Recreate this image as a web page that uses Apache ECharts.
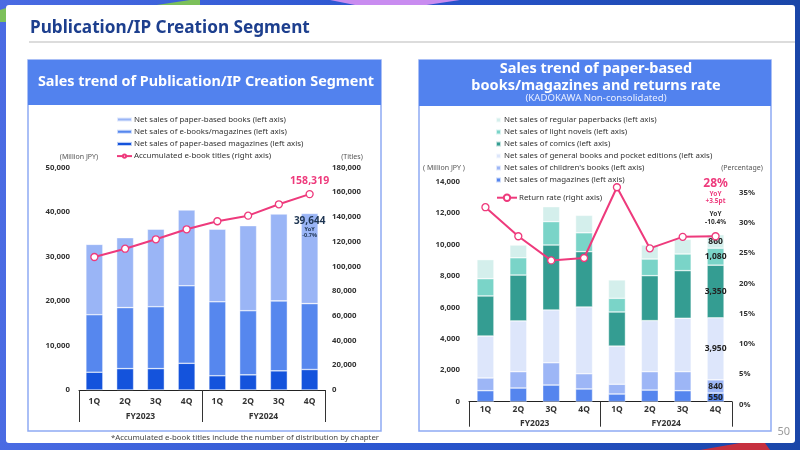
<!DOCTYPE html>
<html><head><meta charset="utf-8">
<script src="https://cdn.jsdelivr.net/npm/echarts@6/dist/echarts.min.js"></script>
<style>html,body{margin:0;padding:0;background:#fff}#c{width:800px;height:450px}</style>
</head><body><div id="c"></div>
<script>
// ---------- data ----------
const quarters = ['1Q','2Q','3Q','4Q','1Q','2Q','3Q','4Q'];
const fiscalYears = ['FY2023','FY2024'];

// Left chart (Million JPY / Titles)
const paperMagazines = [4000, 4800, 4800, 6000, 3200, 3400, 4300, 4600];
const ebooksMagazines = [12900, 13700, 13900, 17400, 16600, 14400, 15700, 14800];
const paperBooks = [15800, 15700, 17400, 17000, 16300, 19100, 19500, 20244];
const ebookTitles = [107500, 114200, 121800, 129900, 136400, 140900, 150100, 158319];

// Right chart (Million JPY / %)
const magazines = [700, 870, 1060, 810, 490, 740, 700, 550];
const childrensBooks = [810, 1040, 1420, 970, 620, 1170, 1210, 840];
const generalBooks = [2670, 3230, 3360, 4250, 2430, 3250, 3400, 3950];
const comics = [2550, 2920, 4130, 3520, 2170, 2860, 3030, 3350];
const lightNovels = [1100, 1100, 1490, 1200, 870, 1060, 1060, 1080];
const regularPaperbacks = [1210, 810, 950, 1110, 1170, 890, 930, 860];
const returnRate = [32.6, 27.8, 23.8, 24.2, 35.9, 25.8, 27.7, 27.8];

const FONT = 'Noto Sans';
const fmt = v => String(v).replace(/\B(?=(\d{3})+(?!\d))/g, ',');
const last = quarters.length - 1;
const rightTotalLast = [magazines, childrensBooks, generalBooks, comics, lightNovels, regularPaperbacks]
  .reduce((s, a) => s + a[last], 0);

const C = {
  pBooks: '#9ab5f6', eBooks: '#5687ee', pMags: '#1453dc', pink: '#ee3a7c',
  mags: '#5585ee', child: '#9db6f6', general: '#dde6fb', comics: '#349d92', light: '#7ad4c8', regular: '#d4efec'
};

function lastLabel(arr, color) {
  return arr.map((v, i) => i === last ? {value: v, label: {show: true, position: 'inside', formatter: p => fmt(p.value),
    color: color || '#222', fontWeight: 'bold', fontSize: 8.5, fontFamily: FONT}} : v);
}

const axisLabelStyle = {color: '#333', fontWeight: 'bold', fontSize: 7.8, fontFamily: FONT};
const barBorder = {borderColor: 'rgba(255,255,255,0.7)', borderWidth: 0.6};
const LEG_FS = 7.9;

const chart = echarts.init(document.getElementById('c'), null, {renderer: 'canvas'});
chart.setOption({
  animation: false,
  textStyle: {fontFamily: FONT},
  graphic: [
    {type: 'rect', z: -20, shape: {x: 0, y: 0, width: 800, height: 450},
     style: {fill: new echarts.graphic.LinearGradient(0, 0, 1, 0, [{offset: 0, color: '#4a6be3'}, {offset: 0.5, color: '#2a55cf'}, {offset: 1, color: '#1a46a8'}])}},
    {type: 'polygon', z: -19, shape: {points: [[150, 6], [190, 0], [200, 0], [200, 6]]}, style: {fill: '#7cc05a'}},
    {type: 'polygon', z: -19, shape: {points: [[0, 10], [6, 8], [6, 22], [0, 22]]}, style: {fill: '#7cc05a'}},
    {type: 'polygon', z: -19, shape: {points: [[330, 0], [460, 0], [420, 6], [360, 6]]}, style: {fill: '#c98cf0'}},
    {type: 'polygon', z: -19, shape: {points: [[700, 450], [740, 443], [765, 443], [770, 450]]}, style: {fill: '#c6303f'}},
    {type: 'rect', z: -18, shape: {x: 6, y: 5, width: 789, height: 438, r: 3}, style: {fill: '#ffffff'}},
    {type: 'text', z: 5, left: 30, top: 19.5, style: {text: 'Publication/IP Creation Segment', fill: '#1d3f8e', font: 'bold 17.2px "Noto Sans"'}},
    {type: 'rect', z: -17, shape: {x: 29, y: 41, width: 766, height: 2}, style: {fill: '#dcdcdc'}},
    // left panel
    {type: 'rect', z: -16, shape: {x: 28, y: 60, width: 353, height: 371}, style: {fill: '#fff', stroke: '#8eabf3', lineWidth: 1.5}},
    {type: 'rect', z: -15, shape: {x: 28, y: 60, width: 353, height: 45}, style: {fill: '#5282ee'}},
    {type: 'text', z: 5, x: 206, y: 82, style: {text: 'Sales trend of Publication/IP Creation Segment', fill: '#fff', font: 'bold 14.4px "Noto Sans"', align: 'center', verticalAlign: 'middle'}},
    // right panel
    {type: 'rect', z: -16, shape: {x: 419, y: 60, width: 352, height: 371}, style: {fill: '#fff', stroke: '#8eabf3', lineWidth: 1.5}},
    {type: 'rect', z: -15, shape: {x: 419, y: 60, width: 352, height: 46}, style: {fill: '#5282ee'}},
    {type: 'text', z: 5, x: 596, y: 69, style: {text: 'Sales trend of paper-based', fill: '#fff', font: 'bold 14.5px "Noto Sans"', align: 'center', verticalAlign: 'middle'}},
    {type: 'text', z: 5, x: 596, y: 86, style: {text: 'books/magazines and returns rate', fill: '#fff', font: 'bold 14.5px "Noto Sans"', align: 'center', verticalAlign: 'middle'}},
    {type: 'text', z: 5, x: 596, y: 98.5, style: {text: '(KADOKAWA Non-consolidated)', fill: '#e8eeff', font: '9.6px "Noto Sans"', align: 'center', verticalAlign: 'middle'}},
    // axis names
    {type: 'text', z: 5, x: 79, y: 157, style: {text: '(Million JPY)', fill: '#555', font: '7px "Noto Sans"', align: 'center', verticalAlign: 'middle'}},
    {type: 'text', z: 5, x: 352, y: 157, style: {text: '(Titles)', fill: '#555', font: '7px "Noto Sans"', align: 'center', verticalAlign: 'middle'}},
    {type: 'text', z: 5, x: 444, y: 168, style: {text: '( Million JPY )', fill: '#555', font: '7px "Noto Sans"', align: 'center', verticalAlign: 'middle'}},
    {type: 'text', z: 5, x: 742, y: 168, style: {text: '(Percentage)', fill: '#555', font: '7px "Noto Sans"', align: 'center', verticalAlign: 'middle'}},
    // footnote & page number
    {type: 'text', z: 5, x: 379, y: 437.5, style: {text: '*Accumulated e-book titles include the number of distribution by chapter', fill: '#444', font: '7.8px "Noto Sans"', align: 'right', verticalAlign: 'middle'}},
    {type: 'text', z: 5, x: 790, y: 432, style: {text: '50', fill: '#9a9a9a', font: '11px "Noto Sans"', align: 'right', verticalAlign: 'middle'}}
  ],
  legend: [
    {left: 111, top: 110.5, orient: 'vertical', itemWidth: 15, itemHeight: 4, itemGap: 4.2,
     textStyle: {fontSize: LEG_FS, color: '#333', fontFamily: FONT, padding: [0, 0, 0, -3]},
     data: [{name: 'Net sales of paper-based books (left axis)', icon: 'rect'},
            {name: 'Net sales of e-books/magazines (left axis)', icon: 'rect'},
            {name: 'Net sales of paper-based magazines (left axis)', icon: 'rect'},
            {name: 'Accumulated e-book titles (right axis)'}]},
    {left: 490, top: 111, orient: 'vertical', itemWidth: 5, itemHeight: 5, itemGap: 4.0,
     textStyle: {fontSize: LEG_FS, color: '#333', fontFamily: FONT, padding: [0, 0, 0, -2]},
     data: [{name: 'Net sales of regular paperbacks (left axis)', icon: 'rect'},
            {name: 'Net sales of light novels (left axis)', icon: 'rect'},
            {name: 'Net sales of comics (left axis)', icon: 'rect'},
            {name: 'Net sales of general books and pocket editions (left axis)', icon: 'rect'},
            {name: "Net sales of children's books (left axis)", icon: 'rect'},
            {name: 'Net sales of magazines (left axis)', icon: 'rect'}]},
    {left: 491, top: 188.5, itemWidth: 20, itemHeight: 8,
     textStyle: {fontSize: LEG_FS, color: '#333', fontFamily: FONT, padding: [0, 0, 0, -3]},
     data: [{name: 'Return rate (right axis)'}]}
  ],
  grid: [
    {left: 79, right: 475, top: 167.3, bottom: 60},
    {left: 469, right: 68, top: 181.7, bottom: 48.3},
    {left: 469, right: 68, top: 192.7, bottom: 45.7}
  ],
  xAxis: [
    {gridIndex: 0, type: 'category', data: quarters, axisLine: {lineStyle: {color: '#222', width: 1}}, axisTick: {show: false},
     axisLabel: Object.assign({}, axisLabelStyle, {margin: 7, fontSize: 8.5})},
    {gridIndex: 0, type: 'category', data: fiscalYears, position: 'bottom', axisLine: {show: false},
     axisTick: {show: true, length: 32, lineStyle: {color: '#333'}}, axisLabel: Object.assign({}, axisLabelStyle, {margin: 22, fontSize: 8.5})},
    {gridIndex: 1, type: 'category', data: quarters, axisLine: {lineStyle: {color: '#222', width: 1}}, axisTick: {show: false},
     axisLabel: Object.assign({}, axisLabelStyle, {margin: 3, fontSize: 8.5})},
    {gridIndex: 1, type: 'category', data: fiscalYears, position: 'bottom', axisLine: {show: false},
     axisTick: {show: true, length: 25, lineStyle: {color: '#333'}}, axisLabel: Object.assign({}, axisLabelStyle, {margin: 17, fontSize: 8.5})},
    {gridIndex: 2, type: 'category', data: quarters, show: false}
  ],
  yAxis: [
    {gridIndex: 0, type: 'value', min: 0, max: 50000, interval: 10000, splitLine: {show: false}, axisLine: {show: false}, axisTick: {show: false},
     axisLabel: Object.assign({margin: 9}, axisLabelStyle)},
    {gridIndex: 0, type: 'value', position: 'right', min: 0, max: 180000, interval: 20000, splitLine: {show: false}, axisLine: {show: false}, axisTick: {show: false},
     axisLabel: Object.assign({margin: 7}, axisLabelStyle)},
    {gridIndex: 1, type: 'value', min: 0, max: 14000, interval: 2000, splitLine: {show: false}, axisLine: {show: false}, axisTick: {show: false},
     axisLabel: Object.assign({margin: 9}, axisLabelStyle)},
    {gridIndex: 2, type: 'value', position: 'right', min: 0, max: 35, interval: 5, splitLine: {show: false}, axisLine: {show: false}, axisTick: {show: false},
     axisLabel: Object.assign({margin: 7, formatter: '{value}%'}, axisLabelStyle)}
  ],
  series: [
    {name: 'Net sales of paper-based magazines (left axis)', type: 'bar', stack: 'L', xAxisIndex: 0, yAxisIndex: 0, barWidth: 17,
     itemStyle: Object.assign({color: C.pMags}, barBorder), data: paperMagazines},
    {name: 'Net sales of e-books/magazines (left axis)', type: 'bar', stack: 'L', xAxisIndex: 0, yAxisIndex: 0, barWidth: 17,
     itemStyle: Object.assign({color: C.eBooks}, barBorder), data: ebooksMagazines},
    {name: 'Net sales of paper-based books (left axis)', type: 'bar', stack: 'L', xAxisIndex: 0, yAxisIndex: 0, barWidth: 17,
     itemStyle: Object.assign({color: C.pBooks}, barBorder),
     data: paperBooks.map((v, i) => i === last ? {value: v, label: {show: true, position: 'insideTop', distance: 2,
       formatter: () => '{a|' + fmt(paperMagazines[i] + ebooksMagazines[i] + paperBooks[i]) + '}\n{b|YoY}\n{b|-0.7%}',
       rich: {a: {fontSize: 10, fontWeight: 'bold', color: '#1e3552', fontFamily: FONT, lineHeight: 11},
              b: {fontSize: 5.5, color: '#1e3552', fontFamily: FONT, lineHeight: 6, fontWeight: 'bold'}}}} : v)},
    {name: 'Accumulated e-book titles (right axis)', type: 'line', xAxisIndex: 0, yAxisIndex: 1, z: 5,
     symbol: 'circle', symbolSize: 7, lineStyle: {color: C.pink, width: 2},
     itemStyle: {color: '#fff', borderColor: C.pink, borderWidth: 1.3},
     data: ebookTitles.map((v, i) => i === last ? {value: v, label: {show: true, position: 'top', distance: 3, formatter: p => fmt(p.value),
       color: C.pink, fontWeight: 'bold', fontSize: 10.5, fontFamily: FONT}} : v)},

    {name: 'Net sales of magazines (left axis)', type: 'bar', stack: 'R', xAxisIndex: 2, yAxisIndex: 2, barWidth: 17,
     itemStyle: Object.assign({color: C.mags}, barBorder), data: lastLabel(magazines)},
    {name: "Net sales of children's books (left axis)", type: 'bar', stack: 'R', xAxisIndex: 2, yAxisIndex: 2, barWidth: 17,
     itemStyle: Object.assign({color: C.child}, barBorder), data: lastLabel(childrensBooks)},
    {name: 'Net sales of general books and pocket editions (left axis)', type: 'bar', stack: 'R', xAxisIndex: 2, yAxisIndex: 2, barWidth: 17,
     itemStyle: Object.assign({color: C.general}, barBorder), data: lastLabel(generalBooks)},
    {name: 'Net sales of comics (left axis)', type: 'bar', stack: 'R', xAxisIndex: 2, yAxisIndex: 2, barWidth: 17,
     itemStyle: Object.assign({color: C.comics}, barBorder), data: lastLabel(comics)},
    {name: 'Net sales of light novels (left axis)', type: 'bar', stack: 'R', xAxisIndex: 2, yAxisIndex: 2, barWidth: 17,
     itemStyle: Object.assign({color: C.light}, barBorder), data: lastLabel(lightNovels)},
    {name: 'Net sales of regular paperbacks (left axis)', type: 'bar', stack: 'R', xAxisIndex: 2, yAxisIndex: 2, barWidth: 17,
     itemStyle: Object.assign({color: C.regular}, barBorder), data: lastLabel(regularPaperbacks),
     markPoint: {symbol: 'circle', symbolSize: 0.1, silent: true,
       data: [{coord: [last, rightTotalLast], value: rightTotalLast}],
       label: {show: true, position: 'top', distance: 8, formatter: 'YoY\n-10.4%', color: '#333', fontSize: 6.5, fontWeight: 'bold', lineHeight: 8, fontFamily: FONT}}},
    {name: 'Return rate (right axis)', type: 'line', xAxisIndex: 4, yAxisIndex: 3, z: 5, clip: false,
     symbol: 'circle', symbolSize: 7, lineStyle: {color: C.pink, width: 2},
     itemStyle: {color: '#fff', borderColor: C.pink, borderWidth: 1.3},
     data: returnRate.map((v, i) => i === last ? {value: v, label: {show: true, position: 'top', distance: 27,
       formatter: '{a|28%}\n{b|YoY}\n{b|+3.5pt}',
       rich: {a: {fontSize: 12, fontWeight: 'bold', color: C.pink, fontFamily: FONT, lineHeight: 13},
              b: {fontSize: 6.5, fontWeight: 'bold', color: C.pink, fontFamily: FONT, lineHeight: 7.5}}}} : v)}
  ]
});
</script></body></html>
